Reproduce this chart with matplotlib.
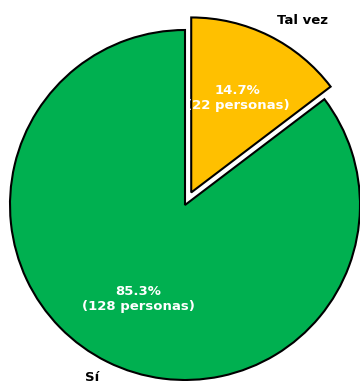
import matplotlib
matplotlib.use("Agg")
import matplotlib.pyplot as plt

labels = ["Sí", "Tal vez"]
counts = [128, 22]
colors = ["#00B050", "#FFC000"]
explode = [0, 0.08]

total = sum(counts)


def pct_label(pct):
    n = int(round(pct * total / 100.0))
    return f"{pct:.1f}%\n({n} personas)"


fig = plt.figure(figsize=(3.6, 3.81), dpi=100)
ax = fig.add_axes([0, 0, 1, 1])

wedges, texts, autotexts = ax.pie(
    counts,
    labels=labels,
    colors=colors,
    explode=explode,
    startangle=90,
    autopct=pct_label,
    pctdistance=0.6,
    labeldistance=1.1,
    wedgeprops=dict(edgecolor="black", linewidth=1.5),
    textprops=dict(fontsize=9.5, fontweight="bold"),
)
for t in autotexts:
    t.set_color("white")
    t.set_fontsize(9.5)

scale = 175.0
ax.set_xlim(-185 / scale, 175 / scale)
ax.set_ylim(-(381 - 205) / scale, 205 / scale)
ax.set_aspect("auto")
ax.axis("off")

fig.savefig("out.png", dpi=100)
